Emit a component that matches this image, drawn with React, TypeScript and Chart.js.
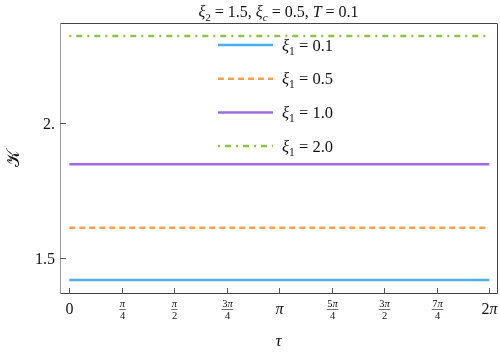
import { useEffect, useRef } from 'react';
import { Chart, registerables } from 'chart.js';
Chart.register(...registerables);

const PI = Math.PI;
const tau = [0, 2 * PI];
const kappaXi01 = [1.417, 1.417];
const kappaXi05 = [1.611, 1.611];
const kappaXi10 = [1.846, 1.846];
const kappaXi20 = [2.321, 2.321];
const seriesLabels = ['0.1', '0.5', '1.0', '2.0'];
const seriesColors = ['#4cb0e8', '#ffa04c', '#a26ae0', '#8cc44a'];
const seriesDash: number[][] = [[], [6, 4], [], [2, 5, 6, 5]];

const xTickValues = [0, PI / 4, PI / 2, (3 * PI) / 4, PI, (5 * PI) / 4, (3 * PI) / 2, (7 * PI) / 4, 2 * PI];
const xTickNum = ['0', 'π', 'π', '3π', 'π', '5π', '3π', '7π', '2π'];
const xTickDen = ['', '4', '2', '4', '', '4', '2', '4', ''];
const yTickValues = [1.5, 2.0];
const yTickLabels = ['1.5', '2.'];

const FONT = '"Liberation Serif", "DejaVu Serif", serif';

type Part = { t: string; it?: boolean; sub?: boolean };

function fontFor(p: Part, size: number) {
  const s = p.sub ? size * 0.7 : size;
  return `${p.it ? 'italic ' : ''}${s}px ${FONT}`;
}

function drawMath(ctx: CanvasRenderingContext2D, parts: Part[], x: number, y: number, size: number, align: 'left' | 'center' | 'right') {
  let w = 0;
  for (const p of parts) {
    ctx.font = fontFor(p, size);
    w += ctx.measureText(p.t).width;
  }
  let cx = align === 'left' ? x : align === 'center' ? x - w / 2 : x - w;
  ctx.textAlign = 'left';
  ctx.textBaseline = 'alphabetic';
  for (const p of parts) {
    ctx.font = fontFor(p, size);
    ctx.fillText(p.t, cx, p.sub ? y + size * 0.25 : y);
    cx += ctx.measureText(p.t).width;
  }
}

function piParts(s: string): Part[] {
  return s.split('').map((c) => ({ t: c, it: c === 'π' }));
}

const decorPlugin = {
  id: 'decor',
  afterDraw(chart: any) {
    const ctx: CanvasRenderingContext2D = chart.ctx;
    const { left, right, top, bottom } = chart.chartArea;
    const xs = chart.scales.x;
    const ys = chart.scales.y;
    ctx.save();
    // frame
    ctx.lineWidth = 1;
    ctx.strokeStyle = '#444';
    ctx.beginPath();
    ctx.moveTo(left, top + 0.5);
    ctx.lineTo(right + 0.5, top + 0.5);
    ctx.lineTo(right + 0.5, bottom + 0.5);
    ctx.lineTo(left, bottom + 0.5);
    ctx.stroke();
    ctx.strokeStyle = '#9a9a9a';
    ctx.beginPath();
    ctx.moveTo(left + 0.5, top);
    ctx.lineTo(left + 0.5, bottom + 1);
    ctx.stroke();

    // x ticks + labels
    ctx.fillStyle = '#111';
    ctx.strokeStyle = '#555';
    xTickValues.forEach((v, i) => {
      const px = Math.round(xs.getPixelForValue(v)) + 0.5;
      ctx.beginPath();
      ctx.moveTo(px, bottom);
      ctx.lineTo(px, bottom - 5);
      ctx.stroke();
      if (xTickDen[i]) {
        ctx.font = `10px ${FONT}`;
        const wd = ctx.measureText(xTickDen[i]).width;
        let wn = 0;
        for (const p of piParts(xTickNum[i])) {
          ctx.font = fontFor(p, 10.5);
          wn += ctx.measureText(p.t).width;
        }
        drawMath(ctx, piParts(xTickNum[i]), px, bottom + 14, 10.5, 'center');
        drawMath(ctx, [{ t: xTickDen[i] }], px, bottom + 26, 10.5, 'center');
        const bw = Math.max(wn, wd) + 1;
        ctx.fillRect(px - bw / 2, bottom + 16, bw, 0.6);
      } else {
        drawMath(ctx, piParts(xTickNum[i]), px, bottom + 21, 16, 'center');
      }
    });

    // y ticks + labels
    yTickValues.forEach((v, i) => {
      const py = Math.round(ys.getPixelForValue(v)) + 0.5;
      ctx.beginPath();
      ctx.moveTo(left, py);
      ctx.lineTo(left + 6, py);
      ctx.stroke();
      drawMath(ctx, [{ t: yTickLabels[i] }], left - 5, py + 5.5, 16, 'right');
    });

    // title
    ctx.fillStyle = '#111';
    drawMath(ctx, [
      { t: 'ξ', it: true }, { t: '2', sub: true }, { t: ' = 1.5, ' },
      { t: 'ξ', it: true }, { t: 'c', it: true, sub: true }, { t: ' = 0.5, ' },
      { t: 'T', it: true }, { t: ' = 0.1' },
    ], (left + right) / 2, 17, 16, 'center');

    // axis titles
    drawMath(ctx, [{ t: 'τ', it: true }], (left + right) / 2, 346, 17, 'center');
    ctx.save();
    ctx.translate(19, (top + bottom) / 2);
    ctx.rotate(-PI / 2);
    drawMath(ctx, [{ t: '𝒦' }], 0, 0, 18, 'center');
    ctx.restore();

    // legend
    seriesLabels.forEach((lab, i) => {
      const y = 45 + i * 33.7;
      ctx.save();
      ctx.strokeStyle = seriesColors[i];
      ctx.lineWidth = 2.5;
      ctx.setLineDash(seriesDash[i]);
      ctx.beginPath();
      ctx.moveTo(218, y);
      ctx.lineTo(273, y);
      ctx.stroke();
      ctx.restore();
      ctx.fillStyle = '#111';
      drawMath(ctx, [{ t: 'ξ', it: true }, { t: '1', sub: true }, { t: ' = ' + lab }], 282, y + 5.5, 16.5, 'left');
    });
    ctx.restore();
  },
};

export default function App() {
  const ref = useRef<HTMLCanvasElement>(null);
  useEffect(() => {
    document.body.style.margin = '0';
    const series = [kappaXi01, kappaXi05, kappaXi10, kappaXi20];
    const chart = new Chart(ref.current!, {
      type: 'line',
      data: {
        datasets: series.map((vals, i) => ({
          label: 'ξ1 = ' + seriesLabels[i],
          data: vals.map((v, j) => ({ x: tau[j], y: v })),
          borderColor: seriesColors[i],
          borderWidth: 2.5,
          borderDash: seriesDash[i],
          pointRadius: 0,
          fill: false,
        })),
      },
      options: {
        responsive: false,
        animation: false,
        layout: { padding: { left: 60, right: 3, top: 23, bottom: 61 } },
        plugins: { legend: { display: false }, tooltip: { enabled: false }, title: { display: false } },
        scales: {
          x: { type: 'linear', display: false, min: -0.139, max: 6.398 },
          y: { type: 'linear', display: false, min: 1.369, max: 2.369 },
        },
      },
      plugins: [decorPlugin],
    });
    return () => chart.destroy();
  }, []);
  return (
    <div style={{ width: 500, height: 354 }}>
      <canvas ref={ref} width={500} height={354} />
    </div>
  );
}
